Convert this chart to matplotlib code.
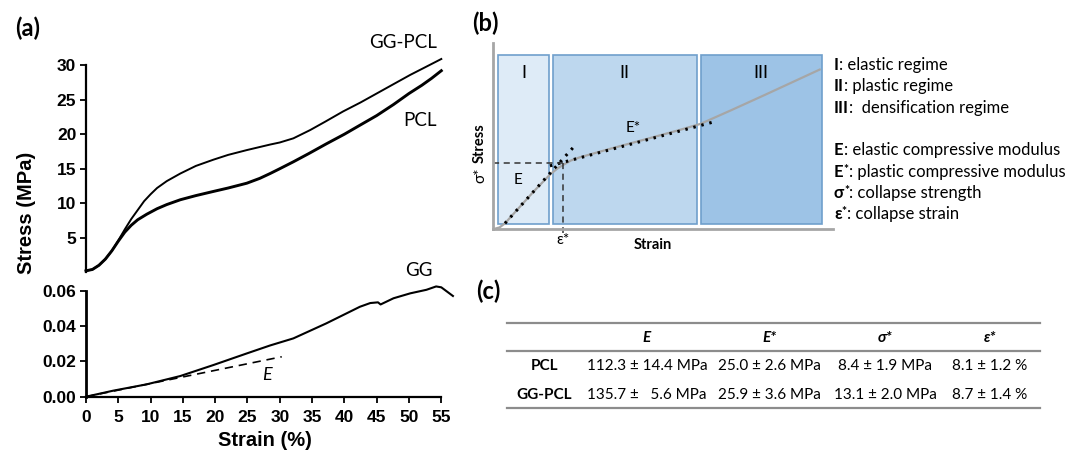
import matplotlib
matplotlib.use('Agg')
import matplotlib.pyplot as plt
from matplotlib.patches import Rectangle

# ---------------- data: panel (a) ----------------
gg_pcl_strain = [0, 1, 2, 3, 4, 5, 6, 7, 8, 9, 10, 11, 12.5, 14.6, 17, 19.7, 22, 24.9,
                 28.5, 30, 32.1, 34.7, 37, 39.8, 42.5, 45, 47.5, 50.2, 52.5, 55]
gg_pcl_stress = [0.2, 0.4, 1.0, 1.9, 3.1, 4.6, 6.2, 7.7, 9.0, 10.3, 11.3, 12.2, 13.2, 14.3,
                 15.4, 16.3, 17.0, 17.7, 18.5, 18.8, 19.4, 20.6, 21.8, 23.3, 24.6, 25.9,
                 27.2, 28.6, 29.7, 30.9]
pcl_strain = [0, 1, 2, 3, 4, 5, 6, 7, 8, 9.4, 11, 12.5, 14.6, 17, 19.7, 22, 24.9, 26.9,
              28.5, 30, 32.1, 34.5, 37.2, 40, 42.4, 45, 47.6, 50, 52, 53.5, 55]
pcl_stress = [0.2, 0.4, 1.0, 1.9, 3.1, 4.5, 5.8, 6.8, 7.6, 8.4, 9.2, 9.8, 10.5, 11.1, 11.7,
              12.2, 12.9, 13.6, 14.3, 15.0, 16.0, 17.2, 18.6, 20.0, 21.3, 22.7, 24.3, 25.9,
              27.1, 28.1, 29.2]
gg_strain = [0, 4.2, 9.4, 14.6, 19.7, 24.9, 28.5, 32.1, 37.2, 42.4, 44.0, 45.2, 45.6,
             47.6, 50.2, 52.7, 54.2, 55.0, 56.8]
gg_stress = [0, 0.0034, 0.0070, 0.0117, 0.0179, 0.0245, 0.0290, 0.0330, 0.0415, 0.0509,
             0.0530, 0.0534, 0.0522, 0.0557, 0.0585, 0.0605, 0.0624, 0.0619, 0.0570]
e_fit_strain = [0, 30.3]
e_fit_stress = [0, 0.0226]
upper_yticks = [5, 10, 15, 20, 25, 30]
lower_yticks = [0.00, 0.02, 0.04, 0.06]
x_ticks = [0, 5, 10, 15, 20, 25, 30, 35, 40, 45, 50, 55]

# ---------------- data: panel (b) schematic ----------------
regime_labels = ['I', 'II', 'III']
regime_start = [1.6, 17.6, 61.1]
regime_end = [16.5, 59.9, 96.6]
regime_colors = ['#deebf7', '#bdd7ee', '#9dc3e6']
schem_strain = [0, 2, 3.6, 8, 12, 16.8, 19, 20.7, 23, 25.6, 35, 45, 55, 61, 70, 80, 96]
schem_stress = [0, 1.0, 3.2, 12.1, 20.2, 29.3, 32.6, 34.5, 36.9, 38.6, 43.4, 48.3, 53.3,
                56.5, 63.8, 72.1, 85.6]
e_line_strain = [3.6, 24.5]
e_line_stress = [3.2, 45.6]
estar_line_strain = [16.8, 65.8]
estar_line_stress = [34.0, 58.0]
collapse_strain = 20.55
collapse_stress = 35.7
legend_keys = ['I', 'II', 'III', None, 'E', 'E', 'σ', 'ε']
legend_sup = [False, False, False, None, False, True, True, True]
legend_desc = [': elastic regime', ': plastic regime', ':  densification regime', None,
               ': elastic compressive modulus', ': plastic compressive modulus',
               ': collapse strength', ': collapse strain']

# ---------------- data: panel (c) table ----------------
table_header = ['', 'E', 'E*', 'σ*', 'ε*']
table_rows = [['PCL', '112.3 ± 14.4 MPa', '25.0 ± 2.6 MPa', '8.4 ± 1.9 MPa', '8.1 ± 1.2 %'],
              ['GG-PCL', '135.7 ±   5.6 MPa', '25.9 ± 3.6 MPa', '13.1 ± 2.0 MPa', '8.7 ± 1.4 %']]

W, H = 1069, 454
fig = plt.figure(figsize=(W / 100, H / 100), dpi=100)
SANS = ['Lato', 'DejaVu Sans']
ARIAL = ['Liberation Sans', 'DejaVu Sans']


def axes_px(left, top, right, bottom):
    return fig.add_axes([left / W, 1 - bottom / H, (right - left) / W, (bottom - top) / H])


def ftext(px, py, s, **kw):
    return fig.text(px / W, 1 - py / H, s, **kw)


# ---------------- panel (a) ----------------
x0, pxu = 86.0, 6.46
xr = x0 + 57 * pxu
ax_up = axes_px(x0, 272.2 - 31.5 * 6.9, xr, 272.2)
ax_lo = axes_px(x0, 396.7 - 0.064 * 1767, xr, 396.7)

ax_up.plot(gg_pcl_strain, gg_pcl_stress, color='black', lw=1.4, clip_on=False)
ax_up.plot(pcl_strain, pcl_stress, color='black', lw=2.1, clip_on=False)
ax_up.set_xlim(0, 57)
ax_up.set_ylim(0, 31.5)
for s in ['top', 'right', 'bottom']:
    ax_up.spines[s].set_visible(False)
ax_up.spines['left'].set_bounds(0, 30)
ax_up.spines['left'].set_linewidth(1.6)
ax_up.set_xticks([])
ax_up.set_yticks(upper_yticks)
ax_up.tick_params(axis='y', length=4.5, width=1.3, pad=2.5)

ax_lo.plot(gg_strain, gg_stress, color='black', lw=1.5, clip_on=False)
ax_lo.plot(e_fit_strain, e_fit_stress, color='black', lw=1.2, ls=(0, (5, 3.5)))
ax_lo.set_xlim(0, 57)
ax_lo.set_ylim(0, 0.064)
for s in ['top', 'right']:
    ax_lo.spines[s].set_visible(False)
ax_lo.spines['left'].set_bounds(0, 0.06)
ax_lo.spines['bottom'].set_bounds(0, 55)
ax_lo.spines['left'].set_linewidth(2.0)
ax_lo.spines['bottom'].set_linewidth(1.6)
ax_lo.set_yticks(lower_yticks)
ax_lo.set_yticklabels([f'{v:.2f}' for v in lower_yticks])
ax_lo.set_xticks(x_ticks)
ax_lo.tick_params(axis='both', length=4.5, width=1.3)
ax_lo.tick_params(axis='y', pad=2.5)
ax_lo.tick_params(axis='x', pad=5)

for a in (ax_up, ax_lo):
    for lab in a.get_xticklabels() + a.get_yticklabels():
        lab.set_family(ARIAL)
        lab.set_fontweight('bold')
        lab.set_fontsize(12.5)

ax_lo.text(28.0, 0.0125, 'E', style='italic', fontsize=13, family=SANS, ha='center', va='center')
ftext(403, 43, 'GG-PCL', fontsize=13.5, family=SANS, ha='center', va='center')
ftext(420, 120, 'PCL', fontsize=13.5, family=SANS, ha='center', va='center')
ftext(419, 270, 'GG', fontsize=13.5, family=SANS, ha='center', va='center')
ftext(26, 213, 'Stress (MPa)', fontsize=14.5, weight='bold', family=ARIAL, rotation=90,
      ha='center', va='center')
ftext(265, 441, 'Strain (%)', fontsize=14.5, weight='bold', family=ARIAL, ha='center', va='center')
ftext(28, 28, '(a)', fontsize=17, weight='bold', family=SANS, ha='center', va='center')

# ---------------- panel (b) ----------------
ax_b = axes_px(492.7, 42.7, 833.3, 229.3)
ax_b.set_xlim(0, 100)
ax_b.set_ylim(0, 100)
for s in ['top', 'right']:
    ax_b.spines[s].set_visible(False)
for s in ['left', 'bottom']:
    ax_b.spines[s].set_color('#a6a6a6')
    ax_b.spines[s].set_linewidth(2)
ax_b.set_xticks([])
ax_b.set_yticks([])
for lab, a0, a1, c in zip(regime_labels, regime_start, regime_end, regime_colors):
    ax_b.add_patch(Rectangle((a0, 2.7), a1 - a0, 90.7, facecolor=c, edgecolor='#6f9fcc', lw=1.2))
    ax_b.text((a0 + a1) / 2, 83.8, lab, fontsize=13, family=SANS, ha='center', va='center')
ax_b.plot(schem_strain, schem_stress, color='#a6a6a6', lw=1.6)
ax_b.plot(e_line_strain, e_line_stress, color='black', lw=2.2, ls=(0, (0.8, 1.9)))
ax_b.plot(estar_line_strain, estar_line_stress, color='black', lw=2.2, ls=(0, (0.8, 1.9)))
ax_b.plot([0, collapse_strain], [collapse_stress, collapse_stress], color='#333333', lw=1.1,
          ls=(0, (4, 3)))
ax_b.plot([collapse_strain, collapse_strain], [collapse_stress, -2.0], color='#333333', lw=1.1,
          ls=(0, (4, 3)), clip_on=False)
ax_b.text(7.5, 26.4, 'E', fontsize=11, family=SANS, ha='center', va='center')
ax_b.text(41.3, 54.1, 'E*', fontsize=11, family=SANS, ha='center', va='center')
ax_b.text(-3.7, 29.1, 'σ*', fontsize=11, family=SANS, rotation=90, ha='center', va='center',
          clip_on=False)
ax_b.text(-3.7, 46.2, 'Stress', fontsize=10.5, weight='bold', family=SANS, rotation=90,
          ha='center', va='center', clip_on=False)
ax_b.text(20.7, -6.0, 'ε*', fontsize=11, family=SANS, ha='center', va='center', clip_on=False)
ax_b.text(47, -8.6, 'Strain', fontsize=10.5, weight='bold', family=SANS, ha='center',
          va='center', clip_on=False)
ftext(485, 23, '(b)', fontsize=17, weight='bold', family=SANS, ha='center', va='center')

legend_y = [65, 86, 107.7, None, 150, 171.7, 193.3, 214.3]
for key, sup, desc, ly in zip(legend_keys, legend_sup, legend_desc, legend_y):
    if key is None:
        continue
    t1 = ftext(834, ly, key, fontsize=12, weight='bold', family=SANS, ha='left', va='center')
    anchor = t1
    if sup:
        star = ax_b.annotate('*', xy=(1, 1), xycoords=t1, fontsize=8.5, family=SANS,
                             weight='bold', ha='left', va='top', annotation_clip=False)
        anchor = (star, t1)
    ax_b.annotate(desc, xy=(1, 0), xycoords=anchor, fontsize=12, family=SANS, ha='left',
                  va='bottom', annotation_clip=False)

# ---------------- panel (c) ----------------
ax_c = axes_px(507.3, 323.3, 1040, 407.7)
ax_c.set_axis_off()
ax_c.set_xlim(0, 1)
ax_c.set_ylim(0, 1)
for yy in (1.0, 0.675, 0.0):
    ax_c.plot([0, 1], [yy, yy], color='#8c8c8c', lw=1.6, clip_on=False)
col_x = [0.069, 0.262, 0.493, 0.709, 0.906]
for cx, h in zip(col_x, table_header):
    ax_c.text(cx, 0.822, h, fontsize=11, family=SANS, weight='bold', style='italic',
              ha='center', va='center')
for ry, row in zip([0.494, 0.15], table_rows):
    for i, (cx, v) in enumerate(zip(col_x, row)):
        ax_c.text(cx, ry, v, fontsize=11, family=SANS, weight='bold' if i == 0 else 'normal',
                  ha='center', va='center')
ftext(488.3, 291.7, '(c)', fontsize=17, weight='bold', family=SANS, ha='center', va='center')

fig.savefig('out.png', dpi=100)
